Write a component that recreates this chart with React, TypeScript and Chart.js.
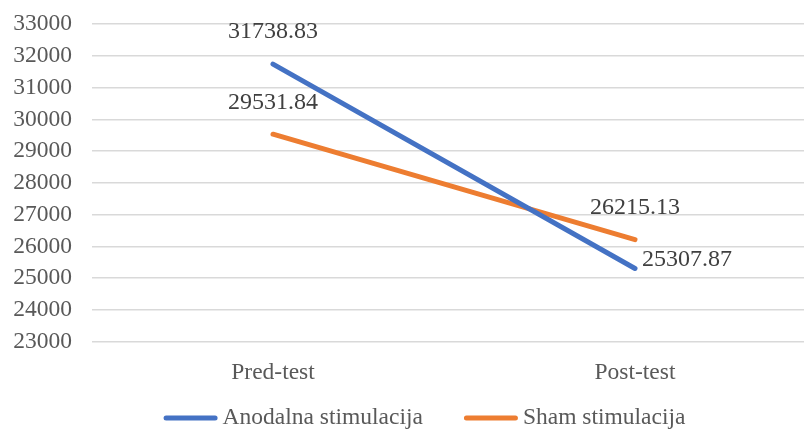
import React, { useEffect, useRef } from 'react';
import { Chart, registerables } from 'chart.js';

Chart.register(...registerables);

const categories = ['Pred-test', 'Post-test'];
const anodalna = [31738.83, 25307.87];
const sham = [29531.84, 26215.13];
const seriesNames = ['Anodalna stimulacija', 'Sham stimulacija'];
const anodalnaLabelPos = ['top', 'right'];
const shamLabelPos = ['top', 'top'];
const yMin = 23000;
const yMax = 33000;
const yStep = 1000;

const FONT = '"Liberation Serif", "Times New Roman", serif';
const BLUE = '#4472C4';
const ORANGE = '#ED7D31';

const labelPlugin = {
  id: 'valueLabels',
  afterDatasetsDraw(chart: any) {
    const ctx = chart.ctx;
    ctx.save();
    ctx.font = `24px ${FONT}`;
    ctx.fillStyle = '#404040';
    chart.data.datasets.forEach((ds: any, di: number) => {
      const meta = chart.getDatasetMeta(di);
      const positions: string[] = ds.labelPositions || [];
      meta.data.forEach((pt: any, i: number) => {
        const v = ds.data[i] as number;
        const txt = v.toFixed(2);
        if (positions[i] === 'right') {
          ctx.textAlign = 'left';
          ctx.textBaseline = 'middle';
          ctx.fillText(txt, pt.x + 7, pt.y - 9);
        } else {
          ctx.textAlign = 'center';
          ctx.textBaseline = 'middle';
          ctx.fillText(txt, pt.x, pt.y - 32);
        }
      });
    });
    ctx.restore();
  },
};

const legendPlugin = {
  id: 'customLegend',
  afterDraw(chart: any) {
    const ctx = chart.ctx;
    ctx.save();
    ctx.font = `23.5px ${FONT}`;
    const lineW = 54;
    const gapText = 5;
    const gapItem = 41;
    const items = chart.data.datasets.map((ds: any) => ({
      text: ds.label,
      color: ds.borderColor,
      w: ctx.measureText(ds.label).width,
    }));
    const total =
      items.reduce((s: number, it: any) => s + lineW + gapText + it.w, 0) +
      gapItem * (items.length - 1);
    let x = chart.width / 2 - total / 2;
    const y = 418;
    items.forEach((it: any) => {
      ctx.strokeStyle = it.color;
      ctx.lineWidth = 5;
      ctx.lineCap = 'round';
      ctx.beginPath();
      ctx.moveTo(x + 2.5, y);
      ctx.lineTo(x + lineW - 2.5, y);
      ctx.stroke();
      ctx.fillStyle = '#595959';
      ctx.textAlign = 'left';
      ctx.textBaseline = 'middle';
      ctx.fillText(it.text, x + lineW + gapText, y);
      x += lineW + gapText + it.w + gapItem;
    });
    ctx.restore();
  },
};

export default function App() {
  const ref = useRef<HTMLCanvasElement | null>(null);

  useEffect(() => {
    if (!ref.current) return;
    const chart = new Chart(ref.current, {
      type: 'line',
      data: {
        labels: categories,
        datasets: [
          {
            label: seriesNames[0],
            data: anodalna,
            borderColor: BLUE,
            backgroundColor: BLUE,
            borderWidth: 5,
            borderCapStyle: 'round',
            pointRadius: 0,
            tension: 0,
            labelPositions: anodalnaLabelPos,
          } as any,
          {
            label: seriesNames[1],
            data: sham,
            borderColor: ORANGE,
            backgroundColor: ORANGE,
            borderWidth: 5,
            borderCapStyle: 'round',
            pointRadius: 0,
            tension: 0,
            labelPositions: shamLabelPos,
          } as any,
        ],
      },
      options: {
        responsive: false,
        animation: false,
        layout: { padding: { top: 24, left: 0, right: 33, bottom: 34 } },
        scales: {
          x: {
            offset: true,
            grid: { display: false },
            border: { display: false },
            ticks: {
              color: '#595959',
              font: { family: FONT, size: 23.5 },
              padding: 9,
            },
          },
          y: {
            min: yMin,
            max: yMax,
            ticks: {
              stepSize: yStep,
              autoSkip: false,
              color: '#595959',
              font: { family: FONT, size: 23.5 },
              padding: 20,
              callback: (v: any) => String(v),
            },
            grid: { color: '#D9D9D9', lineWidth: 1.5, drawTicks: false },
            border: { display: false },
            afterFit: (scale: any) => {
              scale.width = 92;
              scale.paddingTop = 0;
              scale.paddingBottom = 0;
            },
          },
        },
        plugins: {
          tooltip: { enabled: false },
          legend: { display: false },
        },
      } as any,
      plugins: [labelPlugin, legendPlugin],
    });
    return () => chart.destroy();
  }, []);

  return (
    <div
      style={{
        position: 'fixed',
        left: 0,
        top: 0,
        width: 804,
        height: 430,
        overflow: 'hidden',
        background: '#fff',
      }}
    >
      <canvas ref={ref} width={849} height={430} style={{ display: 'block' }} />
    </div>
  );
}
